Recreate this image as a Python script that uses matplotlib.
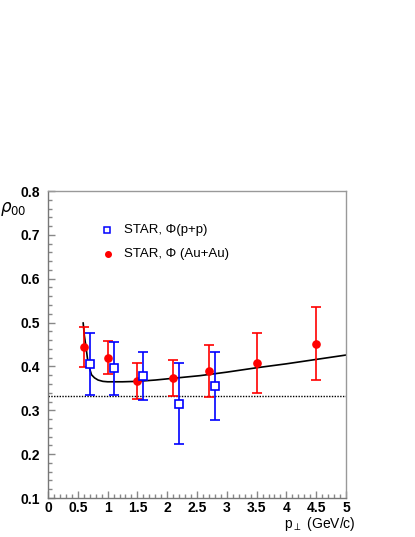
import matplotlib
matplotlib.use("Agg")
import matplotlib.pyplot as plt
from matplotlib.ticker import MultipleLocator

# Data
aa_x = [0.6, 1.0, 1.5, 2.1, 2.7, 3.5, 4.5]
aa_y = [0.444, 0.420, 0.366, 0.373, 0.389, 0.407, 0.451]
aa_hi = [0.489, 0.457, 0.407, 0.414, 0.448, 0.476, 0.536]
aa_lo = [0.398, 0.382, 0.326, 0.332, 0.331, 0.339, 0.368]

pp_x = [0.7, 1.1, 1.6, 2.2, 2.8]
pp_y = [0.405, 0.397, 0.379, 0.315, 0.356]
pp_hi = [0.476, 0.456, 0.434, 0.407, 0.434]
pp_lo = [0.335, 0.336, 0.323, 0.223, 0.277]

curve_x = [0.59, 0.61, 0.64, 0.66, 0.68, 0.71, 0.73, 0.78, 0.84, 0.92, 1.0, 1.25, 1.5, 1.8, 2.1, 2.55, 3.0, 3.5, 4.0, 4.5, 5.0]
curve_y = [0.499, 0.470, 0.442, 0.420, 0.404, 0.390, 0.381, 0.374, 0.369, 0.366, 0.365, 0.365, 0.366, 0.369, 0.373, 0.379, 0.387, 0.397, 0.406, 0.416, 0.426]

ref_level = 1.0 / 3.0

fig = plt.figure(figsize=(4.15, 5.37), dpi=100)
ax = fig.add_axes([0.1157, 0.0726, 0.718, 0.5717])

ax.axhline(ref_level, color='black', linestyle=(0, (1, 1)), linewidth=1.0, zorder=1)
ax.plot(curve_x, curve_y, color='black', linewidth=1.2, zorder=2)

aa_err = [[y - l for y, l in zip(aa_y, aa_lo)], [h - y for y, h in zip(aa_y, aa_hi)]]
pp_err = [[y - l for y, l in zip(pp_y, pp_lo)], [h - y for y, h in zip(pp_y, pp_hi)]]

ax.errorbar(aa_x, aa_y, yerr=aa_err, fmt='o', color='red', ecolor='red',
            markersize=5.2, capsize=3.5, elinewidth=1.2, capthick=1.2, zorder=3)
ax.errorbar(pp_x, pp_y, yerr=pp_err, fmt='s', color='blue', ecolor='blue',
            markerfacecolor='white', markeredgecolor='blue', markeredgewidth=1.2,
            markersize=5.3, capsize=3.5, elinewidth=1.2, capthick=1.2, zorder=4)

ax.set_xlim(0, 5)
ax.set_ylim(0.1, 0.8)
ax.xaxis.set_minor_locator(MultipleLocator(0.1))
ax.yaxis.set_minor_locator(MultipleLocator(0.02))
ax.set_xticks([0, 0.5, 1, 1.5, 2, 2.5, 3, 3.5, 4, 4.5, 5])
ax.set_xticklabels(['0', '0.5', '1', '1.5', '2', '2.5', '3', '3.5', '4', '4.5', '5'],
                   fontfamily='Liberation Sans', fontweight='bold', fontsize=10)
ax.set_yticks([0.1, 0.2, 0.3, 0.4, 0.5, 0.6, 0.7, 0.8])
ax.set_yticklabels(['0.1', '0.2', '0.3', '0.4', '0.5', '0.6', '0.7', '0.8'],
                   fontfamily='Liberation Sans', fontweight='bold', fontsize=10)
ax.tick_params(which='both', direction='in', top=False, right=False, colors='#888888',
               labelcolor='black')
ax.tick_params(which='major', length=5, width=1)
ax.tick_params(which='minor', length=3, width=1)
ax.tick_params(axis='x', pad=2)
ax.tick_params(axis='y', pad=6)

for s in ax.spines.values():
    s.set_color('#999999')
    s.set_linewidth(1.0)
ax.spines['left'].set_color('#777777')
ax.spines['bottom'].set_color('#777777')

# Legend (manual, in axes data coords)
ax.plot([0.99], [0.711], marker='s', markersize=4.3, markerfacecolor='white',
        markeredgecolor='blue', markeredgewidth=1.1, linestyle='none')
ax.plot([1.0], [0.656], marker='o', markersize=4.0, color='red', linestyle='none')
ax.text(1.28, 0.711, 'STAR, Φ(p+p)', fontsize=9.5, fontfamily='Liberation Sans',
        va='center', ha='left')
ax.text(1.28, 0.656, 'STAR, Φ (Au+Au)', fontsize=9.5, fontfamily='Liberation Sans',
        va='center', ha='left')

fig.text(0.0, 1 - 209 / 537, r'$\rho_{00}$', fontsize=12, va='center', ha='left')
fig.text(320 / 415, 1 - 524 / 537, r'p$_{\perp}$ (GeV/c)', fontsize=10,
         fontfamily='Liberation Sans', va='center', ha='center')

fig.savefig('out.png', dpi=100)
